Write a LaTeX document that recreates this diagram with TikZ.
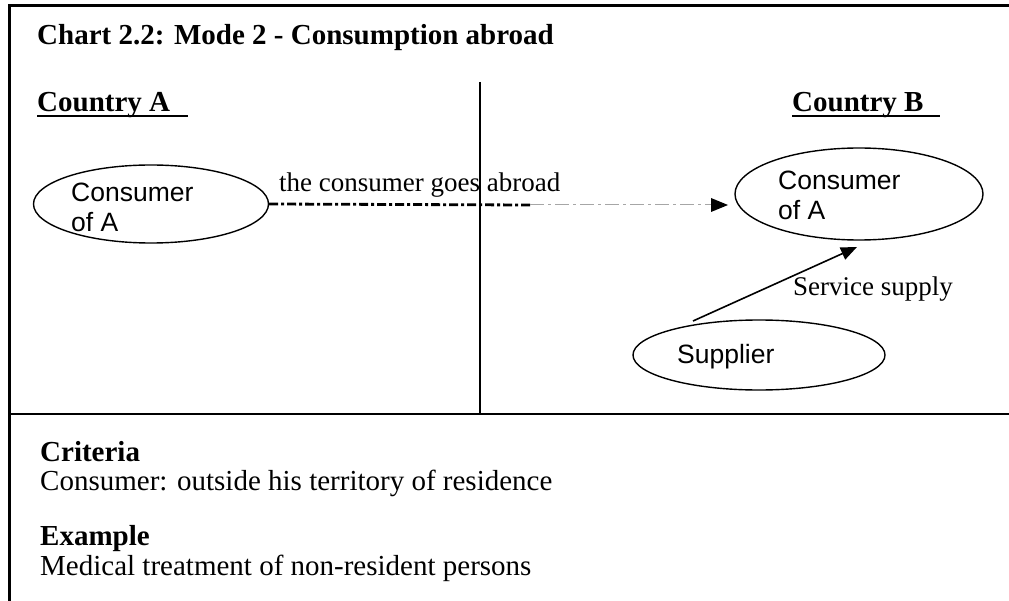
\documentclass[tikz,border=0pt]{standalone}
\usepackage{fontspec}
\setmainfont{Liberation Serif}
\newfontfamily\arialfont{Liberation Sans}
\usetikzlibrary{arrows.meta,shapes.geometric}

% text with an underline that runs on for a given length
\newcommand\ulbox[2]{\rlap{\rule[-5bp]{#2}{2.4bp}}#1}

\begin{document}
\begin{tikzpicture}[x=1bp,y=-1bp,
  heading/.style={font=\fontsize{29bp}{34bp}\selectfont\bfseries, anchor=base west, inner sep=0pt},
  bodytext/.style={font=\fontsize{29bp}{34bp}\selectfont, anchor=base west, inner sep=0pt},
  flowlabel/.style={font=\fontsize{27bp}{32bp}\selectfont, anchor=base west, inner sep=0pt},
  bubble/.style={draw, ellipse, line width=1.4bp, inner sep=0pt},
  bubbletext/.style={font=\fontsize{26.5bp}{30bp}\arialfont, anchor=base west, inner sep=0pt, align=left},
  tip/.style={-{Triangle[length=16bp,width=13bp]}}
]
\useasboundingbox (0,0) rectangle (1009,601);

% frame and dividers
\draw[line width=3bp] (9,601) -- (9,6) -- (1009,6);
\draw[line width=2bp] (9,414) -- (1009,414);
\draw[line width=1.2bp] (480,82) -- (480,414);

% headings
\node[heading] (title) at (37,45) {Chart 2.2: Mode 2 - Consumption abroad};
\node[heading] (ctryA) at (37,112) {\ulbox{Country A}{151bp}};
\node[heading] (ctryB) at (792,112) {\ulbox{Country B}{148bp}};

% parties (a two-line label sits on the baseline of its last line)
\node[bubble, minimum width=235bp, minimum height=78bp] (consA) at (151,204) {};
\node[bubbletext] (consAtxt) at (71,232) {Consumer\\of A};

\node[bubble, minimum width=248bp, minimum height=92bp] (consB) at (859,194) {};
\node[bubbletext] (consBtxt) at (778,220) {Consumer\\of A};

\node[bubble, minimum width=252bp, minimum height=70bp] (supp) at (759,355) {};
\node[bubbletext] (supptxt) at (677,363) {Supplier};

% movement of the consumer
\coordinate (fade) at (530,205);
\coordinate (arrive) at (728,205);
\draw[line width=2.8bp, dash pattern=on 9bp off 3bp on 3bp off 3bp] (consA.east) -- (fade);
\draw[gray!70, line width=1bp, dash pattern=on 14bp off 4bp on 3bp off 4bp] (fade) -- (arrive);
\fill (arrive) -- ++(-17,-7) -- ++(0,14) -- cycle;
\node[flowlabel] (goes) at (279,192) {the consumer goes abroad};

% supply of the service
\coordinate (suppout) at (693,321);
\coordinate (suppin) at (857,247);
\draw[line width=1.6bp, tip] (suppout) -- (suppin);
\node[flowlabel] (servlbl) at (793,296) {Service supply};

% criteria and example
\node[heading] (crit) at (40,461) {Criteria};
\node[bodytext] (crittxt) at (40,490) {Consumer: outside his territory of residence};
\node[heading] (exam) at (40,545) {Example};
\node[bodytext] (examtxt) at (40,575) {Medical treatment of non-resident persons};
\end{tikzpicture}
\end{document}
